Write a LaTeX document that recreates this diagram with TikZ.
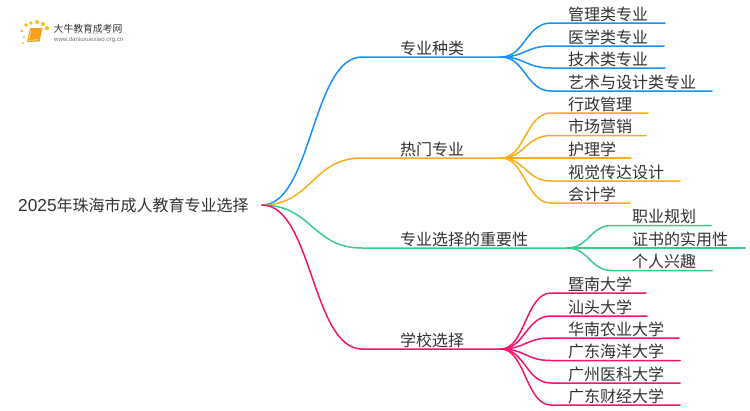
\documentclass[tikz,border=0pt]{standalone}
\usepackage{fontspec}
\usetikzlibrary{calc}
\setmainfont{Noto Sans CJK SC}
\newfontfamily\latinf{Liberation Sans}
\definecolor{cblue}{HTML}{1890FF}
\definecolor{corange}{HTML}{F9AE1C}
\definecolor{cgreen}{HTML}{36CE8A}
\definecolor{cpink}{HTML}{F5146E}
\definecolor{ctext}{HTML}{333333}
\definecolor{logoor}{HTML}{F7A020}
\tikzset{
 x=1pt,y=-1pt,
 wire/.style={line width=1.5pt,line cap=round},
 lbl/.style={anchor=base west,inner sep=0pt,text=ctext,font=\fontsize{16pt}{18pt}\selectfont},
 logodot/.style={fill=logoor!70!yellow,draw=none},
}
\newcommand{\leaf}[6]{% name,color,origin,y,xend,text
  \coordinate (#1s) at (551,#4); \coordinate (#1e) at (#5,#4);
  \draw[wire,#2] (#3) .. controls ($(#3)+(24,0)$) and ($(#1s)+(-25,0)$) .. (#1s) -- (#1e);
  \node[lbl] (#1) at (568,#4-3) {#6};}
\newcommand{\leafg}[6]{%
  \coordinate (#1s) at (612,#4); \coordinate (#1e) at (#5,#4);
  \draw[wire,#2] (#3) .. controls ($(#3)+(22,0)$) and ($(#1s)+(-22,0)$) .. (#1s) -- (#1e);
  \node[lbl] (#1) at (632,#4-3) {#6};}
\newcommand{\branch}[6]{% name,color,y,xend,text,labelx
  \coordinate (#1o) at (#4,#3); \coordinate (#1s) at (362,#3);
  \draw[wire,#2] (root) .. controls (312,205) and (312,#3) .. (#1s) -- (#1o);
  \node[lbl] (#1) at (#6,#3-3) {#5};}
\begin{document}
\begin{tikzpicture}
\useasboundingbox (0,0) rectangle (750,410);
\fill[white] (0,0) rectangle (750,410);
\coordinate (root) at (262,205);
\node[lbl] (roott) at (18,211) {{\latinf\fontsize{17.3pt}{18pt}\selectfont 2025}年珠海市成人教育专业选择};
\branch{a}{cblue}{57}{501}{专业种类}{400}
\branch{b}{corange}{158}{501}{热门专业}{400}
\branch{c}{cgreen}{248}{567}{专业选择的重要性}{400}
\branch{d}{cpink}{349}{501}{学校选择}{400}
\leaf{a1}{cblue}{ao}{23}{665}{管理类专业}
\leaf{a2}{cblue}{ao}{46}{664}{医学类专业}
\leaf{a3}{cblue}{ao}{68}{665}{技术类专业}
\leaf{a4}{cblue}{ao}{91}{712}{艺术与设计类专业}
\leaf{b1}{corange}{bo}{113}{648}{行政管理}
\leaf{b2}{corange}{bo}{135.5}{646}{市场营销}
\leaf{b3}{corange}{bo}{158}{631}{护理学}
\leaf{b4}{corange}{bo}{181}{680}{视觉传达设计}
\leaf{b5}{corange}{bo}{203}{630}{会计学}
\leafg{c1}{cgreen}{co}{225.5}{711}{职业规划}
\leafg{c2}{cgreen}{co}{248}{745}{证书的实用性}
\leafg{c3}{cgreen}{co}{270.5}{712}{个人兴趣}
\leaf{d1}{cpink}{do}{293}{646}{暨南大学}
\leaf{d2}{cpink}{do}{316}{647}{汕头大学}
\leaf{d3}{cpink}{do}{338}{679}{华南农业大学}
\leaf{d4}{cpink}{do}{360.5}{680}{广东海洋大学}
\leaf{d5}{cpink}{do}{383}{680}{广州医科大学}
\leaf{d6}{cpink}{do}{405}{680}{广东财经大学}
% logo
\foreach \px/\py/\r in {23/43/1,24/37/1.2,22/31/1.4,26/25/1.8,31/23/1.9,37/22/2,43/24/2,47/28/2.2}
  \fill[logodot] (\px,\py) circle (\r);
\fill[logoor] (30,28) -- (42.5,28) -- (39.5,41.5) -- (27,42) -- cycle;
\draw[white,line width=.5pt] (28.5,40.3) -- (38.5,39.8);
\draw[white!75!logoor,line width=.5pt] (31,30) -- (29,39);
\shade[left color=white,right color=white,middle color=black!12] (53,33) rectangle (133,33.6);
\node[anchor=base west,inner sep=0pt,text=ctext,font=\fontsize{9.8pt}{11pt}\selectfont] (logot) at (53.5,32) {大牛教育成考网};
\node[anchor=base west,inner sep=0pt,text=black!55,font=\latinf\fontsize{6.1pt}{7pt}\selectfont] (logou) at (54,41.5) {www.daniuxuexiao.org.cn};
\end{tikzpicture}
\end{document}
